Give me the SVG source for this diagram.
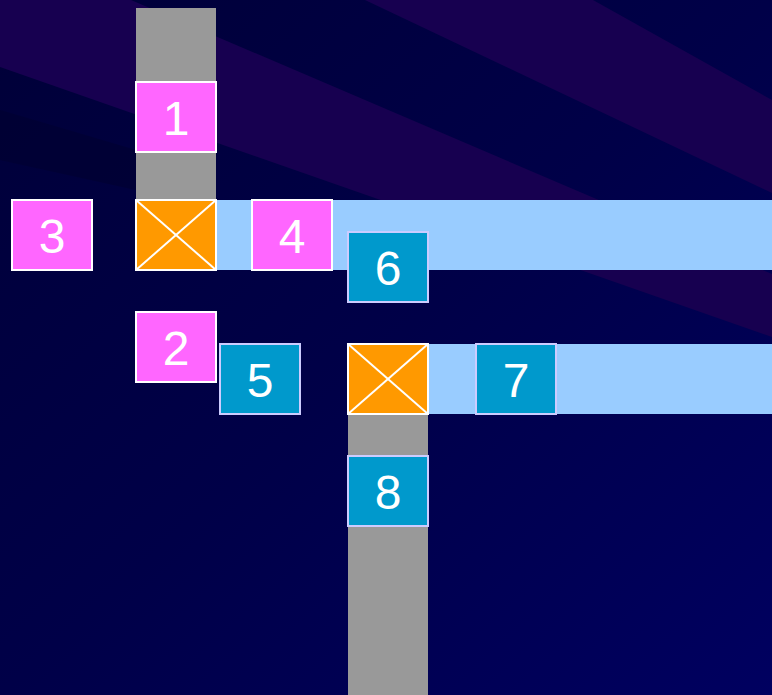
<svg xmlns="http://www.w3.org/2000/svg" width="772" height="695" viewBox="0 0 772 695">
  <defs>
    <linearGradient id="bg" x1="0" y1="0" x2="1" y2="1">
      <stop offset="0" stop-color="#000038"/>
      <stop offset="0.5" stop-color="#000048"/>
      <stop offset="1" stop-color="#000060"/>
    </linearGradient>
    <style>
      .pink { fill: #ff66ff; stroke: #ffffff; stroke-width: 2; }
      .blue { fill: #0099cc; stroke: #ccccff; stroke-width: 2; }
      .cross { fill: #ff9900; stroke: #ffffff; stroke-width: 2; }
      .xline { stroke: #ffffff; stroke-width: 2; }
      .gray { fill: #999999; }
      .lane { fill: #99ccff; }
      .band { fill: #170050; }
      .lbl { font-family: "Liberation Sans", Arial, sans-serif; font-size: 48px; fill: #ffffff; text-anchor: middle; }
    </style>
  </defs>

  <!-- background -->
  <rect x="0" y="0" width="772" height="695" fill="url(#bg)"/>
  <polygon class="band" points="0,-56 772,274 772,337 0,67"/>
  <polygon class="band" points="365,0 593,0 772,100 772,193"/>
  <polygon points="0,110 136,150 136,190 0,160" fill="#000030" opacity="0.6"/>

  <!-- connectors (roads / lanes) -->
  <g id="connectors">
    <rect class="gray" x="136" y="8" width="80" height="192"/>
    <rect class="lane" x="216" y="200" width="556" height="70"/>
    <rect class="lane" x="428" y="344" width="344" height="70"/>
    <rect class="gray" x="348" y="414" width="80" height="281"/>
  </g>

  <g id="junction1">
    <rect class="cross" x="136" y="200" width="80" height="70"/>
    <line class="xline" x1="136" y1="200" x2="216" y2="270"/>
    <line class="xline" x1="216" y1="200" x2="136" y2="270"/>
  </g>
  <g id="junction2">
    <rect class="cross" x="348" y="344" width="80" height="70"/>
    <line class="xline" x1="348" y1="344" x2="428" y2="414"/>
    <line class="xline" x1="428" y1="344" x2="348" y2="414"/>
  </g>

  <g id="node1"><rect class="pink" x="136" y="82" width="80" height="70"/><text class="lbl" x="176" y="135">1</text></g>
  <g id="node2"><rect class="pink" x="136" y="312" width="80" height="70"/><text class="lbl" x="176" y="365">2</text></g>
  <g id="node3"><rect class="pink" x="12" y="200" width="80" height="70"/><text class="lbl" x="52" y="253">3</text></g>
  <g id="node4"><rect class="pink" x="252" y="200" width="80" height="70"/><text class="lbl" x="292" y="253">4</text></g>
  <g id="node5"><rect class="blue" x="220" y="344" width="80" height="70"/><text class="lbl" x="260" y="397">5</text></g>
  <g id="node6"><rect class="blue" x="348" y="232" width="80" height="70"/><text class="lbl" x="388" y="285">6</text></g>
  <g id="node7"><rect class="blue" x="476" y="344" width="80" height="70"/><text class="lbl" x="516" y="397">7</text></g>
  <g id="node8"><rect class="blue" x="348" y="456" width="80" height="70"/><text class="lbl" x="388" y="509">8</text></g>
</svg>
